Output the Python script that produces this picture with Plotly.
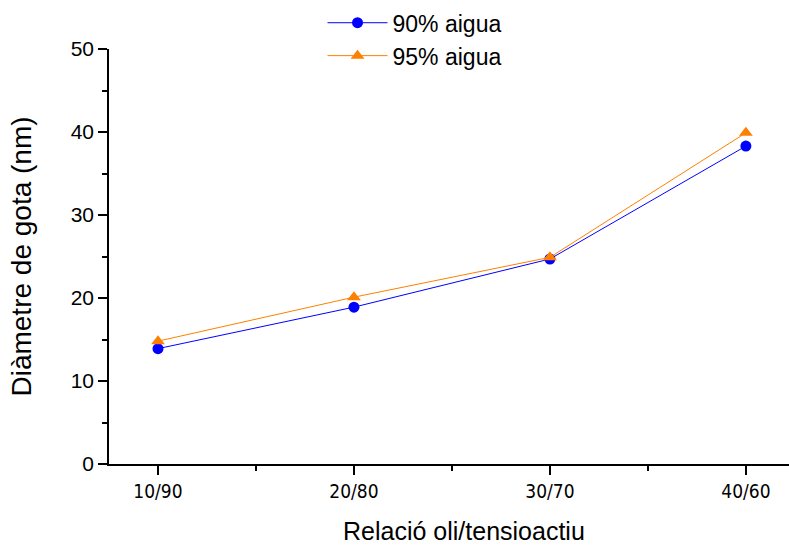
import plotly.graph_objects as go

categories = ["10/90", "20/80", "30/70", "40/60"]
agua90 = [13.9, 18.9, 24.7, 38.3]
agua95 = [14.8, 20.1, 24.9, 39.9]
xpos = list(range(len(categories)))

FONT = "Liberation Sans, Arial, Helvetica, sans-serif"
NARROW = "Liberation Sans Narrow, DejaVu Sans Condensed, Liberation Sans, sans-serif"

fig = go.Figure()
fig.add_trace(go.Scatter(
    x=xpos, y=agua90, name="90% aigua", mode="lines+markers",
    line=dict(color="#0000ff", width=1),
    marker=dict(symbol="circle", size=11, color="#0000ff"),
))
fig.add_trace(go.Scatter(
    x=xpos, y=agua95, name="95% aigua", mode="lines+markers",
    line=dict(color="#ff8000", width=1),
    marker=dict(symbol="triangle-up", size=12, color="#ff8000"),
))

fig.update_layout(
    width=789, height=548,
    margin=dict(l=109, r=0, t=49, b=84, autoexpand=False),
    paper_bgcolor="white", plot_bgcolor="white",
    font=dict(family=FONT, color="black"),
    showlegend=True,
    legend=dict(
        x=0.314, y=1.115,
        xanchor="left", yanchor="top",
        font=dict(size=23, family=FONT), itemwidth=60,
        bgcolor="rgba(0,0,0,0)", tracegroupgap=0,
    ),
    xaxis=dict(
        range=[-0.25, 3.22], tickmode="array", tickvals=xpos, ticktext=categories,
        showline=True, linecolor="black", linewidth=1.5, mirror=False,
        showgrid=False, zeroline=False,
        ticks="outside", ticklen=9, tickwidth=1.5, tickcolor="black",
        tickfont=dict(size=19, family=NARROW),
        minor=dict(tickmode="array", tickvals=[0.5, 1.5, 2.5], ticks="outside", ticklen=5, tickwidth=1.5, tickcolor="black", showgrid=False),
    ),
    yaxis=dict(
        range=[0, 50], tickmode="linear", tick0=0, dtick=10,
        showline=True, linecolor="black", linewidth=1.5, mirror=False,
        showgrid=False, zeroline=False,
        ticks="outside", ticklen=9, tickwidth=1.5, tickcolor="black",
        tickfont=dict(size=21, family=FONT),
        minor=dict(dtick=5, ticks="outside", ticklen=5, tickwidth=1.5, tickcolor="black", showgrid=False),
        title=dict(text="Diàmetre de gota (nm)", font=dict(size=28, family=FONT), standoff=31),
    ),
)

fig.add_annotation(
    text="Relació oli/tensioactiu", xref="paper", yref="paper",
    x=0.522, y=-0.162, xanchor="center", yanchor="middle",
    showarrow=False, borderpad=0, font=dict(size=25, family=FONT, color="black"),
)

fig.write_html("out.html")
